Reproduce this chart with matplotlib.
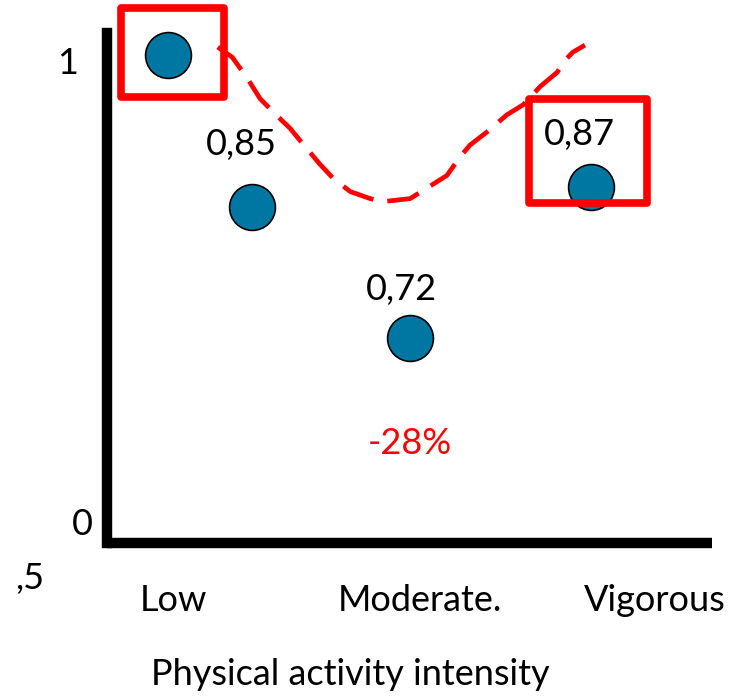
import matplotlib.pyplot as plt
from matplotlib.patches import Rectangle

plt.rcParams['font.family'] = ['Lato', 'DejaVu Sans']

# data
categories = ["Low", "Moderate.", "Vigorous"]
values = [1.0, 0.85, 0.72, 0.87]
value_labels = ["", "0,85", "0,72", "0,87"]
point_x = [1.0, 2.4, 5.0, 8.0]
# hand drawn dashed trend
trend_x = [1.83, 2.07, 2.31, 2.53, 2.81, 3.02, 3.24, 3.52, 3.74, 4.02, 4.35,
           4.56, 5.01, 5.62, 5.83, 6.0, 6.28, 6.61, 6.88, 7.16, 7.44, 7.57,
           7.70, 7.90]
trend_y = [1.008, 0.998, 0.978, 0.957, 0.940, 0.928, 0.912, 0.892, 0.878,
           0.865, 0.858, 0.855, 0.858, 0.881, 0.899, 0.911, 0.924, 0.941,
           0.951, 0.969, 0.983, 0.995, 1.003, 1.010]
change_label = "-28%"

fig = plt.figure(figsize=(7.4, 6.99), dpi=100)
ax = fig.add_axes([107/740, (699-543)/699, (712-107)/740, (543-33)/699])
ax.set_xlim(0, 10)
ax.set_ylim(0.517, 1.022)

for s in ['top', 'right']:
    ax.spines[s].set_visible(False)
for s in ['left', 'bottom']:
    ax.spines[s].set_linewidth(7.5)
ax.spines['left'].set_capstyle('projecting')
ax.spines['bottom'].set_capstyle('butt')
ax.set_xticks([])
ax.set_yticks([])

ax.plot(trend_x, trend_y, color='#ff0000', lw=3.4, dashes=(7, 3),
        solid_capstyle='butt', clip_on=False, zorder=2)

ax.scatter(point_x, values, s=33**2, color='#0076a3', edgecolor='black',
           linewidth=1.2, zorder=3, clip_on=False)

fs = 26
lab_dx = [0, -0.18, -0.13, -0.2]
lab_dy = [0, 0.062, 0.048, 0.051]
for x, y, lab, dx, dy in zip(point_x, values, value_labels, lab_dx, lab_dy):
    if lab:
        ax.text(x + dx, y + dy, lab, ha='center', va='center',
                fontsize=fs, color='black')

# red boxes around first and last point
for x, y, dx0, dx1, dy0, dy1 in [(point_x[0], values[0], -0.77, 0.93, -0.041, 0.047),
                                 (point_x[3], values[3], -1.02, 0.93, -0.016, 0.087)]:
    box = Rectangle((x + dx0, y + dy0), dx1 - dx0, dy1 - dy0,
                    fill=False, edgecolor='#ff0000', lw=5.5,
                    joinstyle='round', clip_on=False, zorder=4)
    ax.add_patch(box)

ax.text(point_x[2], 0.616, change_label, ha='center', va='center',
        fontsize=fs, color='#ff0000')

# axis labels drawn as text like the original slide
ax.text(-0.65, 0.992, "1", ha='center', va='center', fontsize=fs)
ax.text(-0.4, 0.535, "0", ha='center', va='center', fontsize=fs)
ax.text(-1.27, 0.482, ",5", ha='center', va='center', fontsize=fs, clip_on=False)

cat_x = [1.1, 5.17, 9.06]
for x, lab in zip(cat_x, categories):
    ax.text(x, 0.460, lab, ha='center', va='center', fontsize=fs)

ax.text(4.02, 0.387, "Physical activity intensity", ha='center', va='center',
        fontsize=fs)

fig.savefig('out.png', dpi=100)
